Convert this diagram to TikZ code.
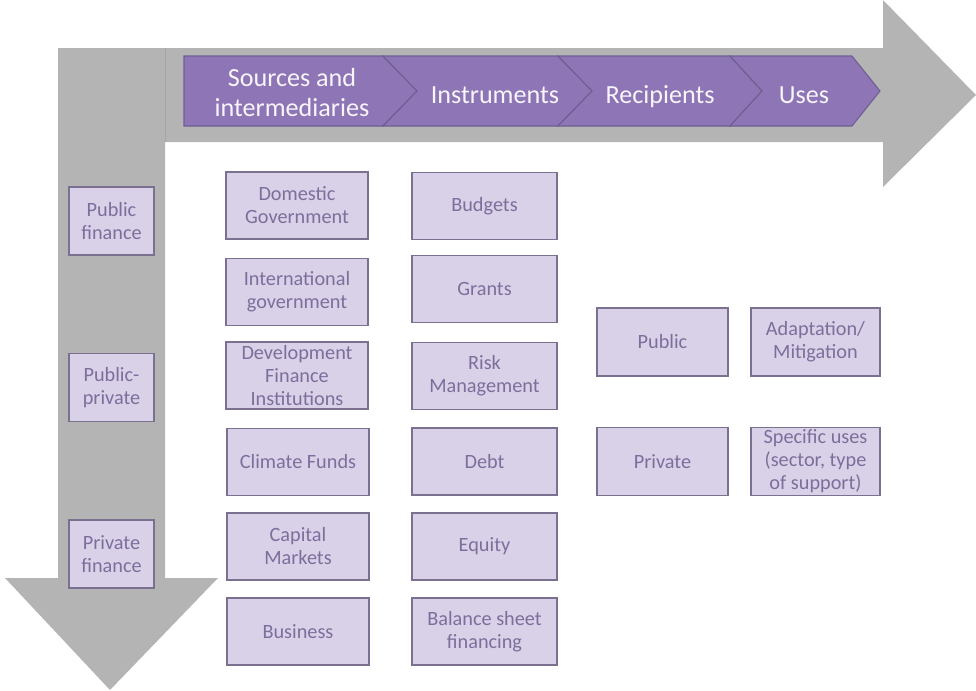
\documentclass[tikz,border=0pt]{standalone}
\usepackage{fontspec}
\setmainfont{Carlito}
\usepackage{tikz}

\definecolor{arrowgray}{HTML}{B4B4B4}
\definecolor{chevfill}{HTML}{8E75B5}
\definecolor{chevline}{HTML}{6E5E92}
\definecolor{boxfill}{HTML}{D9D1E7}
\definecolor{boxline}{HTML}{7C7090}
\definecolor{boxtext}{HTML}{7D6E9C}

\tikzset{
  chev/.style={fill=chevfill, draw=chevline, line width=0.8pt, line join=miter},
  chevtext/.style={text=white!93!chevfill, align=center, font=\fontsize{19.6}{22.5}\selectfont},
  fbox/.style={draw=boxline, fill=boxfill, line width=0.9pt, text=boxtext, align=center,
    inner sep=0pt, font=\fontsize{15.2}{17.25}\selectfont},
  leftbox/.style={fbox, minimum width=63.75pt, minimum height=51pt},
  srcbox/.style={fbox, minimum width=106.5pt, minimum height=50.25pt},
  instbox/.style={fbox, minimum width=108.75pt, minimum height=50.25pt},
  recbox/.style={fbox, minimum width=98.25pt, minimum height=51pt},
  usebox/.style={fbox, minimum width=96.75pt, minimum height=51pt}
}

\begin{document}
\begin{tikzpicture}[x=0.75pt,y=-0.75pt]
\useasboundingbox (0,0) rectangle (976,690);

%% gray arrows
\fill[arrowgray] (58,48) -- (883,48) -- (883,0) -- (976,95) -- (883,187) -- (883,142)
  -- (165,142) -- (165,578) -- (218,578) -- (110,690) -- (5,578) -- (58,578) -- cycle;
\draw[black!35, line width=0.6pt] (165,48) -- (165,142);

%% chevrons
\draw[chev] (184,56) -- (383,56) -- (417,91) -- (383,126) -- (184,126) -- cycle;
\draw[chev] (383,56) -- (558,56) -- (592,91) -- (558,126) -- (383,126) -- (417,91) -- cycle;
\draw[chev] (558,56) -- (730,56) -- (762,91) -- (730,126) -- (558,126) -- (592,91) -- cycle;
\draw[chev] (730,56) -- (852,56) -- (880,91) -- (852,126) -- (730,126) -- (762,91) -- cycle;

\node[chevtext] (sources) at (292,93) {Sources and\\intermediaries};
\node[chevtext, anchor=base] (instr) at (495,103) {Instruments};
\node[chevtext, anchor=base] (recip) at (660,103) {Recipients};
\node[chevtext, anchor=base] (uses)  at (804,103) {Uses};

%% finance types
\node[leftbox] (pubfin)  at (111.5,221)   {Public\\finance};
\node[leftbox] (pubpriv) at (111.5,387.5) {Public-\\private};
\node[leftbox] (privfin) at (111.5,554)   {Private\\finance};

%% sources and intermediaries
\node[srcbox] (domgov)  at (297,205.5) {Domestic\\Government};
\node[srcbox] (intgov)  at (297,292)   {International\\government};
\node[srcbox] (dfi)     at (297,375.5) {Development\\Finance\\Institutions};
\node[srcbox] (climate) at (298,462)   {Climate Funds};
\node[srcbox] (capital) at (298,546.5) {Capital\\Markets};
\node[srcbox] (business) at (298,631.5) {Business};

%% instruments
\node[instbox] (budgets) at (484.5,206)   {Budgets};
\node[instbox] (grants)  at (484.5,289)   {Grants};
\node[instbox] (risk)    at (484.5,376)   {Risk\\Management};
\node[instbox] (debt)    at (484.5,461.5) {Debt};
\node[instbox] (equity)  at (484.5,546.5) {Equity};
\node[instbox] (balance) at (484.5,631.5) {Balance sheet\\financing};

%% recipients
\node[recbox] (public)  at (662.5,342)   {Public};
\node[recbox] (private) at (662.5,461.5) {Private};

%% uses
\node[usebox] (adapt)    at (815.5,342)   {Adaptation/\\Mitigation};
\node[usebox] (specific) at (815.5,461.5) {Specific uses\\(sector, type\\of support)};
\end{tikzpicture}
\end{document}
